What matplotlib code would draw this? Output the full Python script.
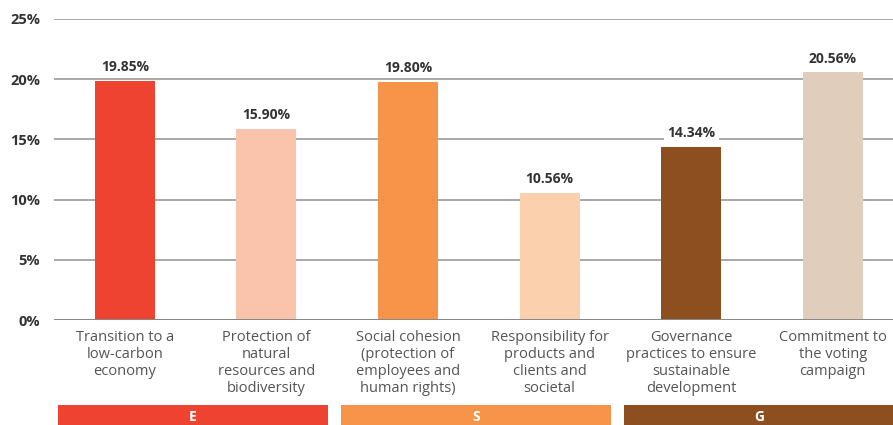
import matplotlib
matplotlib.use("Agg")
import matplotlib.pyplot as plt
from matplotlib.patches import Rectangle
import matplotlib.transforms as mtransforms

categories = [
    "Transition to a\nlow-carbon\neconomy",
    "Protection of\nnatural\nresources and\nbiodiversity",
    "Social cohesion\n(protection of\nemployees and\nhuman rights)",
    "Responsibility for\nproducts and\nclients and\nsocietal",
    "Governance\npractices to ensure\nsustainable\ndevelopment",
    "Commitment to\nthe voting\ncampaign",
]
values = [19.85, 15.90, 19.80, 10.56, 14.34, 20.56]
bar_colors = ["#EE4330", "#FAC4AC", "#F7944A", "#FBD0AC", "#8E4F20", "#E0CDBC"]
groups = ["E", "S", "G"]
group_members = [(0, 1), (2, 3), (4, 5)]
group_colors = ["#EE4330", "#F7944A", "#8E4F20"]
yticks = [0, 5, 10, 15, 20, 25]

plt.rcParams["font.family"] = ["Open Sans", "DejaVu Sans"]

fig = plt.figure(figsize=(8.93, 4.25), dpi=100)
ax = fig.add_axes([54 / 893, 1 - 320 / 425, 1 - 54 / 893, (320 - 19) / 425])

slot = 141.6
x = list(range(len(values)))
ax.bar(x, values, width=60 / slot, color=bar_colors, zorder=2)

ax.set_xlim(-0.5, (893 - 54) / slot - 0.5)
ax.set_ylim(0, 25)
ax.set_yticks(yticks)
ax.set_yticklabels([f"{t}%" for t in yticks], fontsize=10.5, fontweight="bold", color="#333333")
ax.tick_params(axis="y", length=0, pad=10)
ax.set_xticks([])
for s in ax.spines.values():
    s.set_visible(False)
ax.yaxis.grid(True, color="#9a9a9a", linewidth=1.2, zorder=0)
ax.axhline(0, color="#888888", linewidth=1.4, zorder=3)

for xi, v in zip(x, values):
    ax.annotate(f"{v:.2f}%", (xi, v), xytext=(0, 5), textcoords="offset points",
                ha="center", va="bottom", fontsize=10, fontweight="bold", color="#333333",
                bbox=dict(boxstyle="square,pad=0.25", fc="white", ec="none"), zorder=4)

for xi, lab in zip(x, categories):
    ax.text(xi, -0.85, lab, ha="center", va="top", fontsize=10.5, color="#555555",
            linespacing=1.17, transform=ax.transData, clip_on=False)

trans = mtransforms.blended_transform_factory(ax.transData, fig.transFigure)
band_h = 20 / 425
band_w = 270 / slot
for g, (a, b), c in zip(groups, group_members, group_colors):
    x0 = a - 0.5 + 0.025
    fig.patches.append(Rectangle((x0, 0), band_w, band_h, transform=trans,
                                 facecolor=c, edgecolor="none"))
    fig.text(x0 + band_w / 2, band_h / 2 - 0.004, g, transform=trans, ha="center", va="center",
             fontsize=10, fontweight="bold", color="white")

fig.savefig("out.png", dpi=100)
